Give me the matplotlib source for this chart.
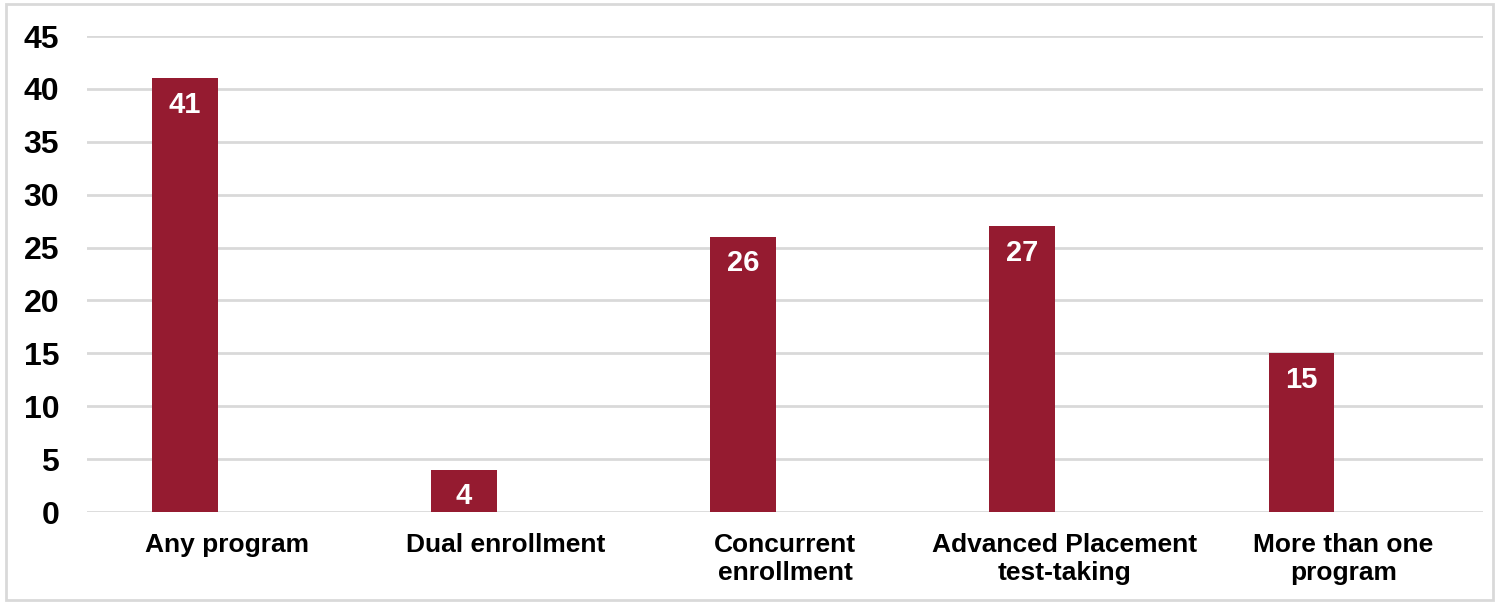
import matplotlib.pyplot as plt
from matplotlib.patches import Rectangle

categories = ['Any program', 'Dual enrollment', 'Concurrent\nenrollment',
              'Advanced Placement\ntest-taking', 'More than one\nprogram']
values = [41, 4, 26, 27, 15]
yticks = [0, 5, 10, 15, 20, 25, 30, 35, 40, 45]

bar_color = '#951b30'
grid_color = '#d9d9d9'

plt.rcParams['font.family'] = ['Liberation Sans', 'DejaVu Sans']
plt.rcParams['font.weight'] = 'bold'

W, H = 1497, 604
fig = plt.figure(figsize=(W / 100, H / 100), dpi=100)
ax = fig.add_axes([87 / W, 92 / H, (1483 - 87) / W, (512 - 36) / H])

x = list(range(len(categories)))
xb = [i - 0.15 for i in x]
bars = ax.bar(xb, values, width=0.236, color=bar_color, zorder=3)

for b, v in zip(bars, values):
    ax.annotate(str(v), (b.get_x() + b.get_width() / 2, v),
                xytext=(0, -9), textcoords='offset points',
                ha='center', va='top', color='white',
                fontsize=21, fontweight='bold', zorder=4)

ax.set_xlim(-0.5, len(categories) - 0.5)
ax.set_ylim(0, 45)
ax.set_yticks(yticks)
ax.set_yticklabels([str(t) for t in yticks], fontsize=23, fontweight='bold')
ax.set_xticks(x)
ax.set_xticklabels(categories, fontsize=19, fontweight='bold', linespacing=1.2)
ax.tick_params(axis='both', length=0)
ax.tick_params(axis='y', pad=20)
ax.tick_params(axis='x', pad=15)

ax.yaxis.grid(True, color=grid_color, linewidth=2, zorder=0)
for s in ax.spines.values():
    s.set_visible(False)

# thin frame around the whole figure
fig.patches.append(Rectangle((6 / W, 4 / H), (W - 10) / W, (H - 8) / H,
                             transform=fig.transFigure, fill=False,
                             edgecolor=grid_color, linewidth=2))

fig.savefig('out.png', dpi=100)
